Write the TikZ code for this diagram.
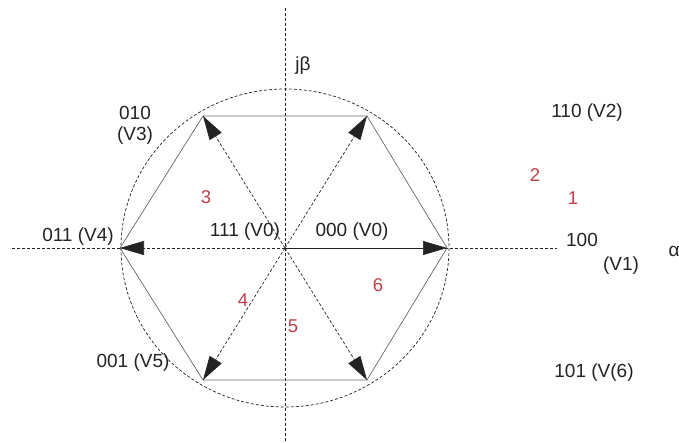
\documentclass[tikz,border=0pt]{standalone}
\usepackage{fontspec}
\setmainfont{Liberation Sans}
\usepackage{tikz}
\usetikzlibrary{arrows.meta, positioning}
\definecolor{sectred}{RGB}{190, 65, 75}
\definecolor{inkgray}{RGB}{35, 35, 35}

\begin{document}
\begin{tikzpicture}[x=1pt, y=-1pt, line width=0.7pt,
    axis/.style={dash pattern=on 3pt off 2pt, inkgray},
    vec/.style={dash pattern=on 3pt off 2pt, inkgray, -{Triangle[length=24pt, width=14pt]}},
    hexedge/.style={gray!80!black},
    lbl/.style={inkgray, font=\fontsize{19}{22}\selectfont},
    sect/.style={sectred, font=\fontsize{18.5}{22}\selectfont}]
    \useasboundingbox (0,0) rectangle (679,442);

    % Origin and switching vectors
    \coordinate (O) at (285,248);
    \coordinate (V1) at (447,248);
    \coordinate (V2) at (367,116);
    \coordinate (V3) at (203,116);
    \coordinate (V4) at (120,248);
    \coordinate (V5) at (203,380);
    \coordinate (V6) at (367,380);
    \coordinate (ax west) at (10,248);
    \coordinate (ax east) at (557,248);
    \coordinate (ax north) at (285,8);
    \coordinate (ax south) at (285,442);

    % Axes and circle
    \draw[axis] (O) -- (ax west);
    \draw[axis] (O) -- (ax east);
    \draw[axis] (ax north) -- (ax south);
    \draw[axis] (O) ellipse [x radius=164, y radius=159];

    % Hexagon
    \draw[hexedge] (V1) -- (V2) -- (V3) -- (V4) -- (V5) -- (V6) -- cycle;

    % Vectors
    \draw[vec, solid] (O) -- (V1);
    \foreach \v in {V2, V3, V4, V5, V6}
        \draw[vec] (O) -- (\v);

    % Labels
    \node[lbl] (jb) at (303,66) {jβ};
    \node[lbl] (alpha) at (674,251) {α};
    \node[lbl] (l010) at (135,113) {010};
    \node[lbl] (lV3) at (135,136) {(V3)};
    \node[lbl] (l110) at (587,113) {110 (V2)};
    \node[lbl] (l100) at (582,240) {100};
    \node[lbl] (lV1) at (621,266) {(V1)};
    \node[lbl] (l011) at (78,237) {011 (V4)};
    \node[lbl] (l111) at (245,232) {111 (V0)};
    \node[lbl] (l000) at (352,232) {000 (V0)};
    \node[lbl] (l001) at (133,363) {001 (V5)};
    \node[lbl] (l101) at (594,373) {101 (V(6)};

    % Sector numbers
    \node[sect] (s1) at (573,198) {1};
    \node[sect] (s2) at (535,175) {2};
    \node[sect] (s3) at (206,197) {3};
    \node[sect] (s4) at (243,300) {4};
    \node[sect] (s5) at (293,326) {5};
    \node[sect] (s6) at (378,285) {6};
\end{tikzpicture}
\end{document}
